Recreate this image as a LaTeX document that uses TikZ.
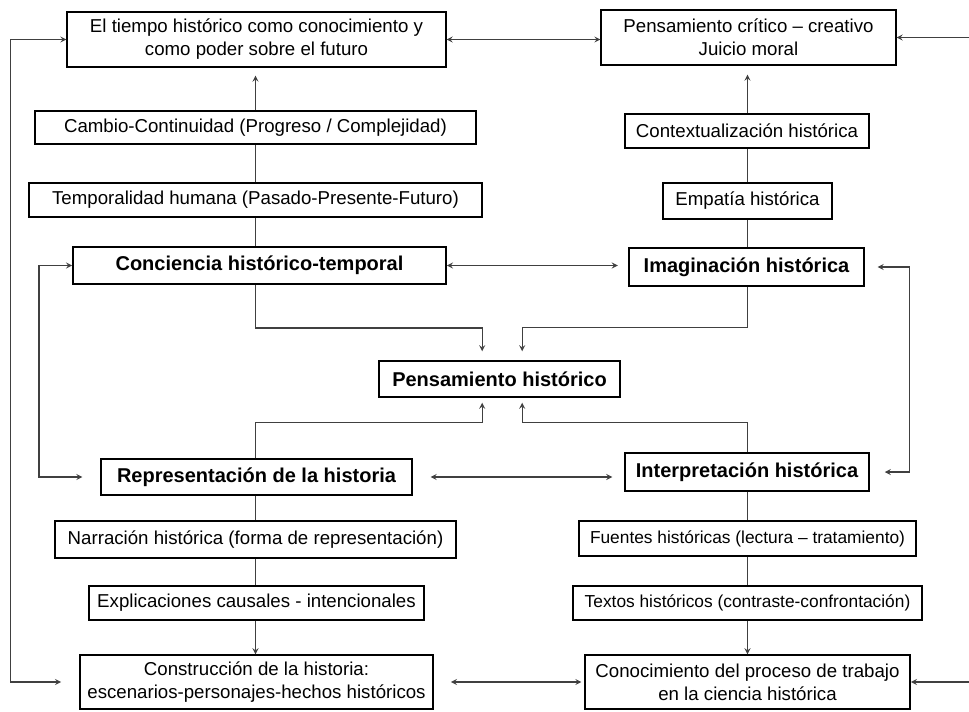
\documentclass[tikz,border=0pt]{standalone}
\usepackage{fontspec}
\setmainfont{Liberation Sans}
\usetikzlibrary{arrows}
\tikzstyle{concept} = [rectangle, draw=black, line width=1.1pt,
                       text centered, align=center, inner sep=0pt,
                       text=black, font=\fontsize{14}{17.25}\selectfont]
\tikzstyle{keyconcept} = [concept, font=\fontsize{15}{18}\selectfont\bfseries]
\tikzstyle{narrowconcept} = [concept, font=\fontsize{13}{16}\selectfont]
\tikzstyle{arrow} = [line width=1pt, black!75, ->, >=stealth]
\tikzstyle{link} = [line width=1pt, black!75]

\begin{document}
\begin{tikzpicture}[x=0.75pt, y=-0.75pt]
        \useasboundingbox (0,0) rectangle (969,711);

        \node (Tiempo) [concept, minimum width=284pt, minimum height=41pt] at (256.5,39.5) {El tiempo histórico como conocimiento y\\como poder sobre el futuro};
        \node (Critico) [concept, minimum width=221pt, minimum height=41pt] at (748.5,37.5) {Pensamiento crítico -- creativo\\Juicio moral};

        \node (Cambio) [concept, minimum width=331pt, minimum height=25pt] at (255.5,127.5) {Cambio-Continuidad (Progreso / Complejidad)};
        \node (Temporal) [concept, minimum width=340pt, minimum height=25.5pt] at (255.5,200) {Temporalidad humana (Pasado-Presente-Futuro)};
        \node (Conciencia) [keyconcept, minimum width=280pt, minimum height=28pt] at (259.5,265.5) {Conciencia histórico-temporal};

        \node (Contexto) [concept, minimum width=183pt, minimum height=25.5pt] at (747,131) {Contextualización histórica};
        \node (Empatia) [concept, minimum width=127pt, minimum height=27pt] at (747.5,201) {Empatía histórica};
        \node (Imaginacion) [keyconcept, minimum width=176pt, minimum height=28.5pt] at (746.5,267) {Imaginación histórica};

        \node (Pensamiento) [keyconcept, minimum width=181pt, minimum height=27pt] at (499.5,379) {Pensamiento histórico};

        \node (Representacion) [keyconcept, minimum width=233pt, minimum height=27pt] at (256.5,477) {Representación de la historia};
        \node (Narracion) [concept, minimum width=301pt, minimum height=28pt] at (255.5,539.5) {Narración histórica (forma de representación)};
        \node (Explicaciones) [concept, minimum width=251pt, minimum height=25.5pt] at (256.5,603) {Explicaciones causales - intencionales};
        \node (Construccion) [concept, minimum width=265pt, minimum height=40.5pt] at (256.5,682) {Construcción de la historia:\\escenarios-personajes-hechos históricos};

        \node (Interpretacion) [keyconcept, minimum width=183pt, minimum height=28.5pt] at (747,472) {Interpretación histórica};
        \node (Fuentes) [narrowconcept, minimum width=253pt, minimum height=26pt] at (747.5,538.5) {Fuentes históricas (lectura -- tratamiento)};
        \node (Textos) [narrowconcept, minimum width=262pt, minimum height=25.5pt] at (747.5,603) {Textos históricos (contraste-confrontación)};
        \node (Conocimiento) [concept, minimum width=244pt, minimum height=40.5pt] at (747.5,682) {Conocimiento del proceso de trabajo\\en la ciencia histórica};

        \coordinate (EdgeR) at (975,0);

        % columnas
        \draw [link] (Conciencia.north -| Temporal.south) -- (Temporal.south);
        \draw [link] (Temporal.north) -- (Cambio.south);
        \draw [arrow, shorten >=6pt] (Cambio.north) -- (Cambio.north |- Tiempo.south);
        \draw [link] (Imaginacion.north -| Empatia.south) -- (Empatia.south);
        \draw [link] (Empatia.north) -- (Contexto.south -| Empatia.north);
        \draw [arrow, shorten >=6.75pt] (Contexto.north -| Empatia.north) -- (Critico.south -| Empatia.north);
        \draw [link] (Representacion.south -| Narracion.north) -- (Narracion.north);
        \draw [link] (Narracion.south) -- (Explicaciones.north -| Narracion.south);
        \draw [arrow] (Explicaciones.south -| Narracion.south) -- (Construccion.north -| Narracion.south);
        \draw [link] (Interpretacion.south -| Fuentes.north) -- (Fuentes.north);
        \draw [link] (Fuentes.south) -- (Textos.north);
        \draw [arrow] (Textos.south) -- (Conocimiento.north);

        % hacia el pensamiento histórico
        \draw [arrow, shorten >=6.75pt] (Conciencia.south -| Temporal.south) -- ++(0,43) -| ([xshift=-13pt]Pensamiento.north);
        \draw [arrow, shorten >=6.75pt] (Imaginacion.south -| Empatia.south) -- ++(0,41) -| ([xshift=17pt]Pensamiento.north);
        \draw [arrow, shorten >=3.75pt] (Representacion.north -| Narracion.north) -- ++(0,-36) -| ([xshift=-13pt]Pensamiento.south);
        \draw [arrow, shorten >=3.75pt] (Interpretacion.north -| Fuentes.north) -- ++(0,-30) -| ([xshift=17pt]Pensamiento.south);

        % relaciones horizontales
        \draw [arrow, <->] (Tiempo.east) -- (Tiempo.east -| Critico.west);
        \draw [arrow, <->, shorten >=8pt] (Conciencia.east) -- (Conciencia.east -| Imaginacion.west);
        \draw [arrow, <->, shorten <=13.5pt, shorten >=9pt] (Representacion.east) -- (Representacion.east -| Interpretacion.west);
        \draw [arrow, <->, shorten <=12.75pt, shorten >=2pt] (Construccion.east) -- (Construccion.east -| Conocimiento.west);
        \draw [arrow] (Critico.east -| EdgeR) -- (Critico.east);
        \draw [arrow] (Conocimiento.east -| EdgeR) -- (Conocimiento.east);

        % lazos laterales
        \draw [arrow, <->, shorten >=13.5pt] (Tiempo.west) -- ++(-56,0) |- (Construccion.west);
        \draw [arrow, <->, shorten >=13.5pt] (Conciencia.west) -- ++(-33,0) |- (Representacion.west);
        \draw [arrow, <->, shorten <=9.75pt, shorten >=11.25pt] (Imaginacion.east) -- ++(45,0) |- (Interpretacion.east);

    \end{tikzpicture}
\end{document}
